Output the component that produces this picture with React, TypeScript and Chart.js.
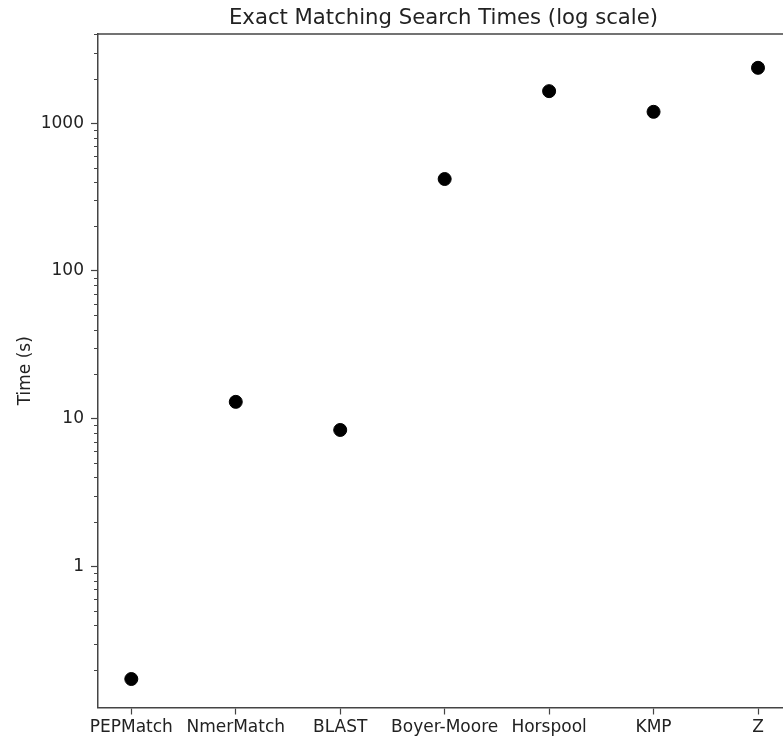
import React, { useEffect, useRef } from 'react';
import { Chart, registerables } from 'chart.js';

Chart.register(...registerables);

const TITLE = 'Exact Matching Search Times (log scale)';
const Y_LABEL = 'Time (s)';
const CATEGORIES = ['PEPMatch', 'NmerMatch', 'BLAST', 'Boyer-Moore', 'Horspool', 'KMP', 'Z'];
const TIMES = [0.173, 13.0, 8.39, 419, 1648, 1194, 2371];
const MAJOR_TICKS = [1, 10, 100, 1000];
const DECADES = [0.1, 1, 10, 100, 1000];
const MULTIPLIERS = [1, 2, 3, 4, 5, 6, 7, 8, 9];
const Y_MIN = 0.111;
const Y_MAX = 4013;
const X_MIN = -0.319;
const X_MAX = 7.235;

const FONT = 'DejaVu Sans';
const AXIS_COLOR = '#444';
const TEXT_COLOR = '#222';

const axesDecor = {
  id: 'axesDecor',
  afterDraw(chart: any) {
    const { ctx, chartArea, scales } = chart;
    ctx.save();
    ctx.strokeStyle = AXIS_COLOR;
    ctx.lineWidth = 1.5;
    ctx.beginPath();
    ctx.moveTo(chartArea.left, chartArea.top);
    ctx.lineTo(chartArea.right, chartArea.top);
    ctx.stroke();
    const y = scales.y;
    ctx.lineWidth = 1;
    ctx.beginPath();
    y.ticks.forEach((t: any) => {
      if (!MAJOR_TICKS.includes(t.value)) {
        const p = Math.round(y.getPixelForValue(t.value)) + 0.5;
        ctx.moveTo(chartArea.left - 4, p);
        ctx.lineTo(chartArea.left, p);
      }
    });
    ctx.stroke();
    ctx.restore();
  },
};

export default function App() {
  const ref = useRef<HTMLCanvasElement | null>(null);

  useEffect(() => {
    if (!ref.current) return;
    Chart.defaults.font.family = FONT;
    const chart = new Chart(ref.current, {
      type: 'scatter',
      data: {
        datasets: [
          {
            label: 'Time',
            data: TIMES.map((t, i) => ({ x: i, y: t })),
            backgroundColor: '#000',
            borderColor: '#000',
            pointRadius: 6.5,
            pointHoverRadius: 6.5,
          },
        ],
      },
      plugins: [axesDecor],
      options: {
        responsive: false,
        animation: false,
        layout: { padding: 0, autoPadding: false },
        plugins: {
          legend: { display: false },
          tooltip: { enabled: false },
          title: {
            display: true,
            text: TITLE,
            color: TEXT_COLOR,
            font: { size: 21.2, weight: 'normal', family: FONT },
            padding: { top: 5.5, bottom: 3.1 },
          },
        },
        scales: {
          x: {
            type: 'linear',
            min: X_MIN,
            max: X_MAX,
            afterBuildTicks: (axis: any) => {
              axis.ticks = CATEGORIES.map((_, i) => ({ value: i }));
            },
            afterFit: (axis: any) => {
              axis.height = 29.5;
              axis.paddingLeft = 0;
              axis.paddingRight = 0;
            },
            ticks: {
              autoSkip: false,
              maxRotation: 0,
              minRotation: 0,
              padding: 3,
              color: TEXT_COLOR,
              font: { size: 17, family: FONT },
              callback: (v: any) => CATEGORIES[v] ?? '',
            },
            grid: {
              display: true,
              drawOnChartArea: false,
              drawTicks: true,
              tickLength: 7,
              tickColor: AXIS_COLOR,
              tickWidth: 1.2,
            },
            border: { display: true, color: AXIS_COLOR, width: 1.5 },
          },
          y: {
            type: 'logarithmic',
            min: Y_MIN,
            max: Y_MAX,
            afterBuildTicks: (axis: any) => {
              const ticks: any[] = [];
              DECADES.forEach((d) => {
                MULTIPLIERS.forEach((k) => {
                  const v = k * d;
                  if (v >= Y_MIN && v <= Y_MAX) ticks.push({ value: v, major: MAJOR_TICKS.includes(v) });
                });
              });
              axis.ticks = ticks;
            },
            afterFit: (axis: any) => {
              axis.width = 98;
            },
            title: {
              display: true,
              text: Y_LABEL,
              color: TEXT_COLOR,
              font: { size: 17, family: FONT },
              padding: { top: 15, bottom: 0 },
            },
            ticks: {
              autoSkip: false,
              padding: 7,
              color: TEXT_COLOR,
              font: { size: 17, family: FONT },
              callback: (v: any) => (MAJOR_TICKS.includes(v) ? String(v) : ''),
            },
            grid: {
              display: true,
              drawOnChartArea: false,
              drawTicks: true,
              tickLength: 7,
              tickWidth: 1.2,
              tickColor: (c: any) =>
                c.tick && MAJOR_TICKS.includes(c.tick.value) ? AXIS_COLOR : 'rgba(0,0,0,0)',
            },
            border: { display: true, color: AXIS_COLOR, width: 1.5 },
          },
        },
      },
    } as any);
    return () => chart.destroy();
  }, []);

  return (
    <div
      style={{
        position: 'absolute',
        left: 0,
        top: 0,
        width: 783,
        height: 737,
        overflow: 'hidden',
        background: '#fff',
      }}
    >
      <canvas ref={ref} width={887} height={737} style={{ display: 'block' }} />
    </div>
  );
}
